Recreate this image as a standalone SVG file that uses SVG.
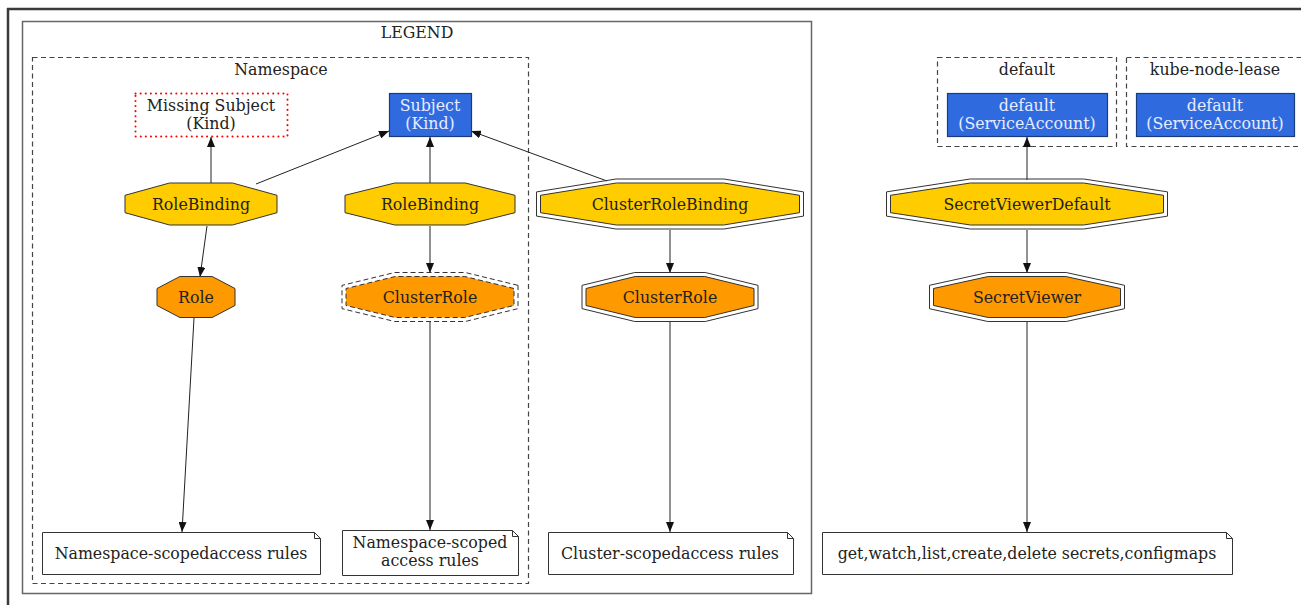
<svg xmlns="http://www.w3.org/2000/svg" width="1301" height="605" viewBox="0 0 1301 605">
<style>
text{font-family:"DejaVu Serif","Liberation Serif",serif;font-size:15.8px;fill:#222;text-anchor:middle}
.w{fill:#e8ecff}
.oct{stroke:#333;stroke-width:1}
.rb{fill:#ffcc00}
.cr{fill:#ff9900}
.per{fill:none;stroke:#333;stroke-width:1}
.dash{stroke-dasharray:5,3}
.clu{fill:none;stroke:#444;stroke-width:1.2;stroke-dasharray:5,3.5}
.subj{fill:#2f6bdf;stroke:#1a3a80;stroke-width:1.2}
.note{fill:#fff;stroke:#333;stroke-width:1}
.e{stroke:#222;stroke-width:1;fill:none;marker-end:url(#ah)}
</style>
<defs>
<marker id="ah" viewBox="0 0 10 8" refX="10" refY="4" markerWidth="10" markerHeight="8" markerUnits="userSpaceOnUse" orient="auto">
<path d="M0,0 L10,4 L0,8 z" fill="#111"/>
</marker>
</defs>
<rect width="1301" height="605" fill="#fff"/>
<g id="frame">
<line x1="8" y1="8" x2="8" y2="605" stroke="#3a3a3a" stroke-width="2.5"/>
<line x1="7" y1="9" x2="1301" y2="9" stroke="#3a3a3a" stroke-width="2.5"/>
</g>
<g id="legend">
<rect x="22.5" y="21.5" width="789" height="572" fill="none" stroke="#666" stroke-width="1.5"/>
<text x="417" y="38">LEGEND</text>
</g>
<g id="ns-cluster">
<rect x="32.5" y="57.5" width="496" height="526" class="clu"/>
<text x="281" y="75">Namespace</text>
</g>
<g id="default-cluster">
<rect x="937.5" y="57.5" width="179" height="89" class="clu"/>
<text x="1027" y="75">default</text>
</g>
<g id="knl-cluster">
<rect x="1126.5" y="57.5" width="190" height="89" class="clu"/>
<text x="1215" y="75">kube-node-lease</text>
</g>
<g id="connectors">
<line class="e" x1="211" y1="184" x2="211" y2="137"/>
<line class="e" x1="256" y1="184" x2="389" y2="131"/>
<line class="e" x1="430" y1="184" x2="430" y2="137"/>
<line class="e" x1="607" y1="181" x2="471" y2="131"/>
<line class="e" x1="207" y1="226" x2="200" y2="277"/>
<line class="e" x1="194" y1="318" x2="182" y2="532"/>
<line class="e" x1="430" y1="226" x2="430" y2="273"/>
<line class="e" x1="430" y1="322" x2="430" y2="530"/>
<line class="e" x1="670" y1="230" x2="670" y2="273"/>
<line class="e" x1="670" y1="322" x2="670" y2="532"/>
<line class="e" x1="1027" y1="180" x2="1027" y2="137"/>
<line class="e" x1="1027" y1="230" x2="1027" y2="273"/>
<line class="e" x1="1027" y1="322" x2="1027" y2="532"/>
</g>
<g id="missing-subject">
<rect x="135.5" y="93.5" width="152" height="43" fill="#fff" stroke="#ff0000" stroke-width="2" stroke-dasharray="0.1,5" stroke-linecap="round"/>
<text x="211" y="111">Missing Subject</text>
<text x="211" y="129">(Kind)</text>
</g>
<g id="subject">
<rect x="389.5" y="93.5" width="82" height="43" class="subj"/>
<text x="430" y="111" class="w">Subject</text>
<text x="430" y="129" class="w">(Kind)</text>
</g>
<g id="sa-default">
<rect x="947.5" y="93.5" width="160" height="43" class="subj"/>
<text x="1027" y="111" class="w">default</text>
<text x="1027" y="129" class="w">(ServiceAccount)</text>
</g>
<g id="sa-knl">
<rect x="1136.5" y="93.5" width="158" height="43" class="subj"/>
<text x="1215" y="111" class="w">default</text>
<text x="1215" y="129" class="w">(ServiceAccount)</text>
</g>
<g id="rolebinding1" transform="translate(201,204)">
<polygon class="oct rb" points="76,-8.7 31.48,-21 -31.48,-21 -76,-8.7 -76,8.7 -31.48,21 31.48,21 76,8.7"/>
<text x="0" y="5.5">RoleBinding</text>
</g>
<g id="rolebinding2" transform="translate(430,204)">
<polygon class="oct rb" points="85,-8.7 35.2,-21 -35.2,-21 -85,-8.7 -85,8.7 -35.2,21 35.2,21 85,8.7"/>
<text x="0" y="5.5">RoleBinding</text>
</g>
<g id="clusterrolebinding" transform="translate(670,204)">
<polygon class="per" points="133.5,-12.1 53.96,-25 -53.96,-25 -133.5,-12.1 -133.5,12.1 -53.96,25 53.96,25 133.5,12.1"/>
<polygon class="oct rb" points="129.5,-8.7 53.64,-21 -53.64,-21 -129.5,-8.7 -129.5,8.7 -53.64,21 53.64,21 129.5,8.7"/>
<text x="0" y="5.5">ClusterRoleBinding</text>
</g>
<g id="secretviewerdefault" transform="translate(1027,204)">
<polygon class="per" points="140.5,-12.13 56.84,-25 -56.84,-25 -140.5,-12.13 -140.5,12.13 -56.84,25 56.84,25 140.5,12.13"/>
<polygon class="oct rb" points="136.5,-8.7 56.54,-21 -56.54,-21 -136.5,-8.7 -136.5,8.7 -56.54,21 56.54,21 136.5,8.7"/>
<text x="0" y="5.5">SecretViewerDefault</text>
</g>
<g id="role" transform="translate(196,297)">
<polygon class="oct cr" points="39,-8.49 16.15,-20.5 -16.15,-20.5 -39,-8.49 -39,8.49 -16.15,20.5 16.15,20.5 39,8.49"/>
<text x="0" y="5.5">Role</text>
</g>
<g id="clusterrole-ns" transform="translate(430,297)">
<polygon class="per dash" points="88,-11.63 35.27,-24.5 -35.27,-24.5 -88,-11.63 -88,11.63 -35.27,24.5 35.27,24.5 88,11.63"/>
<polygon class="oct cr dash" points="84,-8.49 34.79,-20.5 -34.79,-20.5 -84,-8.49 -84,8.49 -34.79,20.5 34.79,20.5 84,8.49"/>
<text x="0" y="5.5">ClusterRole</text>
</g>
<g id="clusterrole" transform="translate(670,297)">
<polygon class="per" points="88,-11.63 35.27,-24.5 -35.27,-24.5 -88,-11.63 -88,11.63 -35.27,24.5 35.27,24.5 88,11.63"/>
<polygon class="oct cr" points="84,-8.49 34.79,-20.5 -34.79,-20.5 -84,-8.49 -84,8.49 -34.79,20.5 34.79,20.5 84,8.49"/>
<text x="0" y="5.5">ClusterRole</text>
</g>
<g id="secretviewer" transform="translate(1027,297)">
<polygon class="per" points="97.5,-11.71 39.16,-24.5 -39.16,-24.5 -97.5,-11.71 -97.5,11.71 -39.16,24.5 39.16,24.5 97.5,11.71"/>
<polygon class="oct cr" points="93.5,-8.49 38.73,-20.5 -38.73,-20.5 -93.5,-8.49 -93.5,8.49 -38.73,20.5 38.73,20.5 93.5,8.49"/>
<text x="0" y="5.5">SecretViewer</text>
</g>
<g id="note-ns-role">
<path class="note" d="M42.5,532.5 H314.5 L320.5,538.5 V574.5 H42.5 Z M314.5,532.5 V538.5 H320.5"/>
<text x="181" y="558.5">Namespace-scopedaccess rules</text>
</g>
<g id="note-ns-clusterrole">
<path class="note" d="M342.5,530.5 H512.5 L518.5,536.5 V575.5 H342.5 Z M512.5,530.5 V536.5 H518.5"/>
<text x="430" y="548">Namespace-scoped</text>
<text x="430" y="566">access rules</text>
</g>
<g id="note-cluster">
<path class="note" d="M548.5,532.5 H787.5 L793.5,538.5 V574.5 H548.5 Z M787.5,532.5 V538.5 H793.5"/>
<text x="670" y="558.5">Cluster-scopedaccess rules</text>
</g>
<g id="note-secrets">
<path class="note" d="M822.5,532.5 H1226.5 L1232.5,538.5 V574.5 H822.5 Z M1226.5,532.5 V538.5 H1232.5"/>
<text x="1027" y="558.5">get,watch,list,create,delete secrets,configmaps</text>
</g>
</svg>
